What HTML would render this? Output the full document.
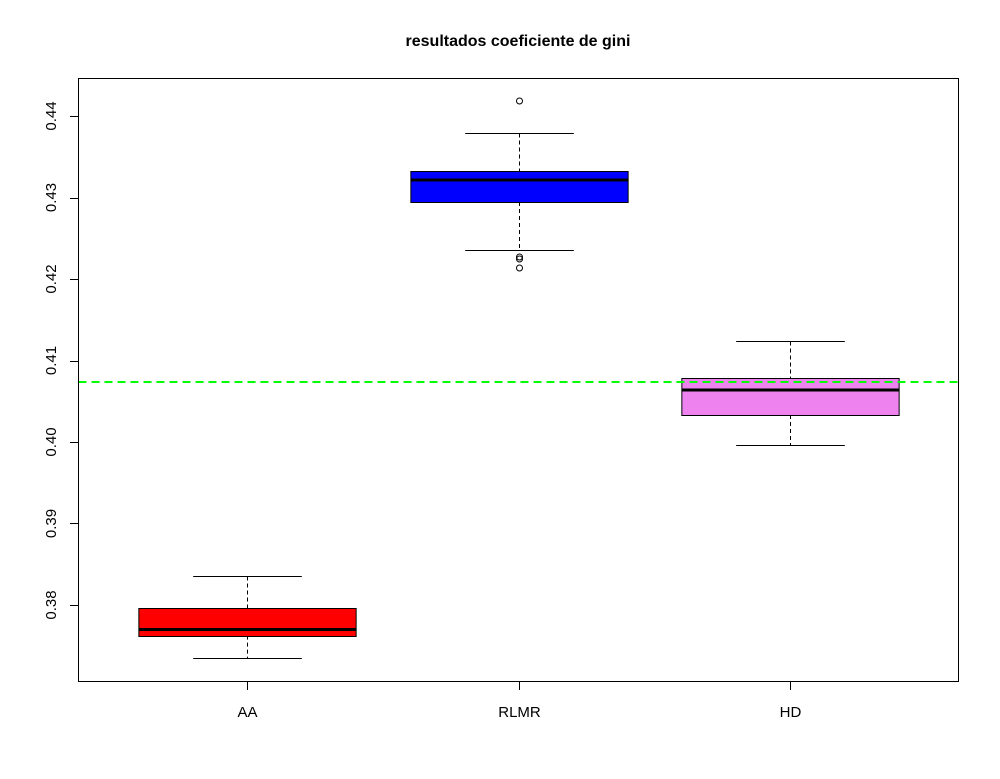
<!DOCTYPE html>
<html><head><meta charset="utf-8"><style>body{margin:0;background:#fff}svg{display:block}</style></head>
<body>
<svg id="chart" width="1000" height="779" xmlns="http://www.w3.org/2000/svg" font-family="Liberation Sans, Arial, sans-serif">
<rect width="1000" height="779" fill="#fff"/>
<text x="518" y="46" font-size="16" font-weight="bold" text-anchor="middle">resultados coeficiente de gini</text>
<g id="marks"></g>
<rect x="78.5" y="78.5" width="880" height="603" fill="none" stroke="#000" stroke-width="1"/>
</svg>
<script>
const categories = ["AA","RLMR","HD"];
const colors = ["#ff0000","#0000ff","#ee82ee"];
const whiskerHigh = [0.38356,0.43791,0.41239];
const q3 = [0.37960,0.43325,0.40785];
const medians = [0.37700,0.43215,0.40638];
const q1 = [0.37624,0.42945,0.40331];
const whiskerLow = [0.37350,0.42356,0.39963];
const outliers = [[],[0.44184,0.42270,0.42245,0.42135],[]];
const yTicks = [0.38,0.39,0.40,0.41,0.42,0.43,0.44];
const yTickLabels = ["0.38","0.39","0.40","0.41","0.42","0.43","0.44"];
const refLine = 0.40736;

const NS="http://www.w3.org/2000/svg";
const g=document.getElementById('marks');
const px0=78.5, px1=958.5;
const x=i=>px0+((i+1)-0.38)/3.24*(px1-px0);
const y=v=>116+(0.44-v)*8150;
const snap=v=>Math.round(v)+0.5;
const unit=(px1-px0)/3.24;
function mk(tag,attrs,parent){const e=document.createElementNS(NS,tag);for(const k in attrs)e.setAttribute(k,attrs[k]);(parent||g).appendChild(e);return e;}
yTicks.forEach((t,i)=>{
  const grp=mk('g',{});
  
  
  mk('line',{x1:70,x2:78.5,y1:snap(y(t)),y2:snap(y(t)),stroke:'#000'},grp);
  const tx=mk('text',{x:0,y:0,'font-size':15,'text-anchor':'middle',transform:`translate(56,${y(t)}) rotate(-90)`},grp);
  tx.textContent=yTickLabels[i];
});
categories.forEach((c,i)=>{
  const cx=snap(x(i)), hw=0.4*unit, cw=0.2*unit;
  const grp=mk('g',{});
  
  
  mk('line',{x1:cx,x2:cx,y1:snap(y(whiskerHigh[i])),y2:y(q3[i]),stroke:'#000','stroke-dasharray':'4,3'},grp);
  mk('line',{x1:cx,x2:cx,y1:y(q1[i]),y2:snap(y(whiskerLow[i])),stroke:'#000','stroke-dasharray':'4,3'},grp);
  mk('line',{x1:cx-cw,x2:cx+cw,y1:snap(y(whiskerHigh[i])),y2:snap(y(whiskerHigh[i])),stroke:'#000'},grp);
  mk('line',{x1:cx-cw,x2:cx+cw,y1:snap(y(whiskerLow[i])),y2:snap(y(whiskerLow[i])),stroke:'#000'},grp);
  mk('rect',{x:cx-hw,y:snap(y(q3[i])),width:2*hw,height:snap(y(q1[i]))-snap(y(q3[i])),fill:colors[i],stroke:'#000'},grp);
  mk('line',{x1:cx-hw,x2:cx+hw,y1:y(medians[i]),y2:y(medians[i]),stroke:'#000','stroke-width':3},grp);
  outliers[i].forEach(o=>mk('circle',{cx:cx,cy:y(o),r:3,fill:'none',stroke:'#000'},grp));
  const tk=mk('line',{x1:cx,x2:cx,y1:681.5,y2:690,stroke:'#000'});
  
  
  const lb=mk('text',{x:cx,y:717,'font-size':15,'text-anchor':'middle'});
  
  
  lb.textContent=c;
});
const rl=mk('line',{x1:px0,x2:px1,y1:y(refLine),y2:y(refLine),stroke:'#00ff00','stroke-width':2,'stroke-dasharray':'8,5'});


</script>
</body></html>
